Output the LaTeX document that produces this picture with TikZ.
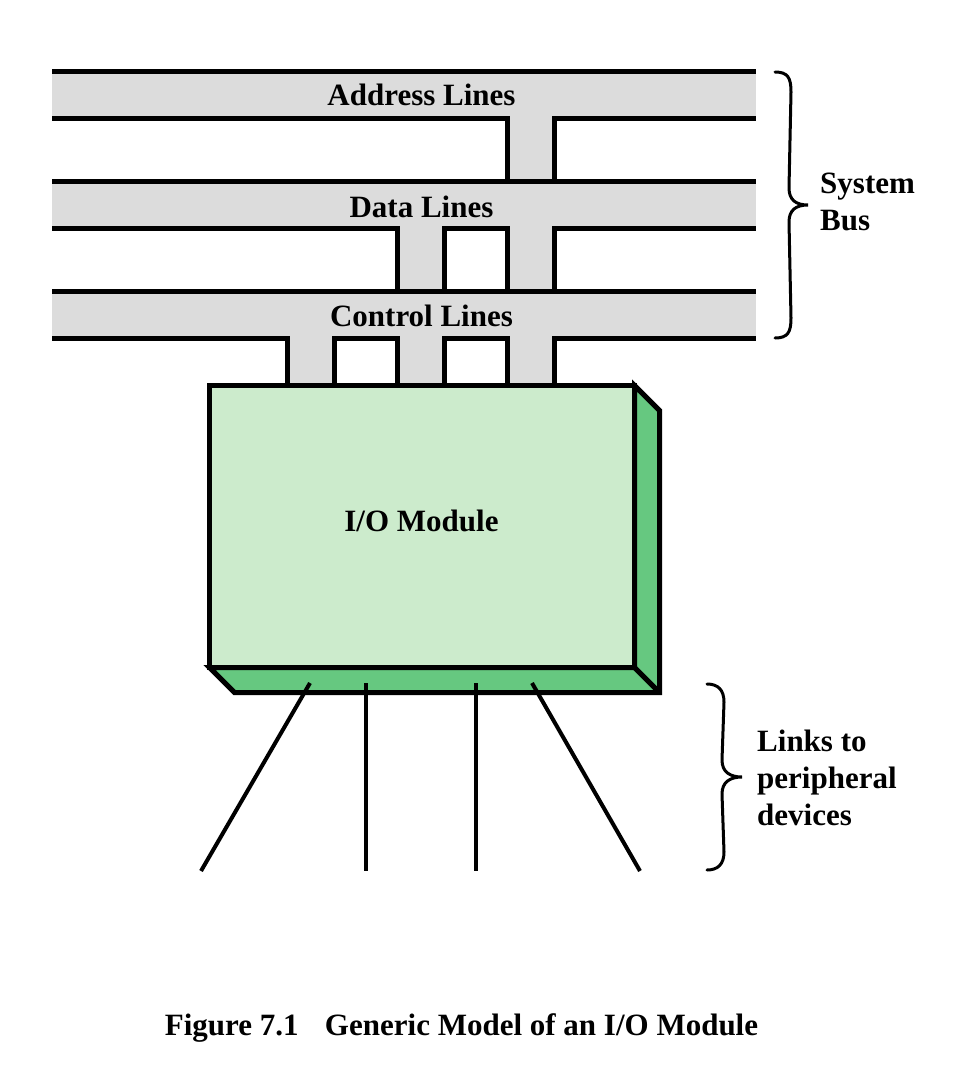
\documentclass[tikz,border=0pt]{standalone}
\usepackage{fontspec}
\setmainfont{Liberation Serif}
\definecolor{busgray}{RGB}{220,220,220}
\definecolor{modlight}{RGB}{204,235,204}
\definecolor{moddark}{RGB}{102,200,128}
\begin{document}
\begin{tikzpicture}[x=1pt,y=-1pt,
  edge/.style={line width=5pt},
  linkline/.style={line width=4pt},
  bracestyle/.style={line width=3pt, line cap=round},
  lbl/.style={font=\fontsize{31}{37}\selectfont\bfseries, inner sep=0pt},
  sidelbl/.style={font=\fontsize{31}{37}\selectfont\bfseries, inner sep=0pt, align=left, anchor=west}]
\useasboundingbox (0,0) rectangle (969,1092);
% gray fills
\fill[busgray] (52,71.5) rectangle (756,118.5);
\fill[busgray] (52,181.5) rectangle (756,228.5);
\fill[busgray] (52,291.5) rectangle (756,338.5);
\fill[busgray] (507.5,118.5) rectangle (554.5,385.5);
\fill[busgray] (397.5,228.5) rectangle (444,385.5);
\fill[busgray] (287.5,338.5) rectangle (334,385.5);
% bar lines
\draw[edge] (52,71.5) -- (756,71.5);
\draw[edge] (52,118.5) -- (507.5,118.5) (554.5,118.5) -- (756,118.5);
\draw[edge] (52,181.5) -- (756,181.5);
\draw[edge] (52,228.5) -- (397.5,228.5) (444,228.5) -- (507.5,228.5) (554.5,228.5) -- (756,228.5);
\draw[edge] (52,291.5) -- (756,291.5);
\draw[edge] (52,338.5) -- (287.5,338.5) (334,338.5) -- (397.5,338.5) (444,338.5) -- (507.5,338.5) (554.5,338.5) -- (756,338.5);
% stem sides
\draw[edge] (507.5,116) -- (507.5,181.5) (554.5,116) -- (554.5,181.5);
\draw[edge] (507.5,226) -- (507.5,291.5) (554.5,226) -- (554.5,291.5);
\draw[edge] (507.5,336) -- (507.5,385.5) (554.5,336) -- (554.5,385.5);
\draw[edge] (397.5,226) -- (397.5,291.5) (444,226) -- (444,291.5);
\draw[edge] (397.5,336) -- (397.5,385.5) (444,336) -- (444,385.5);
\draw[edge] (287.5,336) -- (287.5,385.5) (334,336) -- (334,385.5);
% bus labels
\node[lbl] (addr) at (421.5,95) {Address Lines};
\node[lbl] (data) at (421.5,207) {Data Lines};
\node[lbl] (ctrl) at (421.5,316) {Control Lines};
% module
\draw[edge, line join=miter, fill=moddark] (634.5,385.5) -- (659.5,410.5) -- (659.5,692.5) -- (234.5,692.5) -- (209.5,667.5) -- (634.5,667.5) -- cycle;
\draw[edge, line join=miter] (634.5,667.5) -- (659.5,692.5);
\node[edge, draw, fill=modlight, minimum width=425pt, minimum height=282pt, inner sep=0pt, outer sep=0pt, anchor=north west] (mod) at (209.5,385.5) {};
\node[lbl] (modlbl) at (421.5,521) {I/O Module};
% links
\coordinate (l1s) at (310,683); \coordinate (l1e) at (201,871);
\coordinate (l2s) at (366,683); \coordinate (l2e) at (366,871);
\coordinate (l3s) at (476,683); \coordinate (l3e) at (476,871);
\coordinate (l4s) at (532,683); \coordinate (l4e) at (640,871);
\draw[linkline] (l1s) -- (l1e);
\draw[linkline] (l2s) -- (l2e);
\draw[linkline] (l3s) -- (l3e);
\draw[linkline] (l4s) -- (l4e);
% braces
\draw[bracestyle] (775,72) .. controls (788,72) and (791,78) .. (791,92) -- (789,188) .. controls (789,200) and (796,205) .. (808,205) .. controls (796,205) and (789,210) .. (789,222) -- (791,318) .. controls (791,332) and (788,338) .. (775,338);
\draw[bracestyle] (707,684) .. controls (718,684) and (724,690) .. (724,702) -- (722,760) .. controls (722,772) and (730,777) .. (742,777) .. controls (730,777) and (722,782) .. (722,794) -- (724,852) .. controls (724,864) and (718,870) .. (707,870);
\node[sidelbl] (sysbus) at (820,202) {System\\Bus};
\node[sidelbl] (links) at (757,778) {Links to\\peripheral\\devices};
% caption
\node[lbl] (cap) at (461.5,1028) {Figure 7.1\hspace{0.85em}Generic Model of an I/O Module};
\end{tikzpicture}
\end{document}
